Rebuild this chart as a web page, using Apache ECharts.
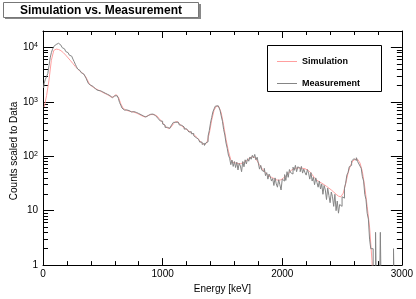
<!DOCTYPE html>
<html>
<head>
<meta charset="utf-8">
<script src="https://cdn.jsdelivr.net/npm/echarts@6/dist/echarts.min.js"></script>
<style>
html,body{margin:0;padding:0;background:#fff;}
#chart{width:416px;height:299px;}
</style>
</head>
<body>
<div id="chart"></div>
<script>
// ---- data ----
const titleText = 'Simulation vs. Measurement';
const seriesNames = ['Simulation', 'Measurement'];
const xTitle = 'Energy [keV]';
const yTitle = 'Counts scaled to Data';
const xTickLabels = [0, 1000, 2000, 3000];
const yTickValues = [1, 10, 100, 1000, 10000];
const yMinorMultipliers = [2, 3, 4, 5, 6, 7, 8, 9];

// simulation: 20 keV bins starting at 0 keV
const simBinWidth = 20;
const simValues = [
  800, 1300, 2500, 5800, 8800, 9300, 9150, 8700, 8000, 7200,
  6400, 5700, 5050, 4450, 4000, 3650, 3350, 3050, 2550, 2080,
  1920, 1800, 1700, 1610, 1530, 1450, 1380, 1310, 1220, 1240,
  1360, 1230, 920, 760, 710, 685, 668, 655, 635, 608,
  578, 548, 528, 545, 575, 585, 578, 558, 495, 442,
  385, 342, 322, 340, 395, 435, 422, 375, 345, 320,
  300, 280, 260, 240, 218, 193, 174, 164, 178, 260,
  460, 700, 835, 815, 625, 370, 205, 124, 86, 77,
  75, 73, 73, 75, 79, 86, 94, 98, 95, 82,
  70, 60, 53, 47, 43, 41, 39, 37, 36, 37,
  40, 43, 48, 54, 58, 60, 61, 61, 60, 59,
  56, 52, 46, 40, 36, 34, 32, 30, 28, 26,
  24, 22, 20, 18.5, 18, 21, 31, 49, 68, 82,
  88, 88, 75, 52, 27, 12, 5, 1.2, 0.1, null,
  null, null, null, null, null, null, null, null, null, null
];

// measurement: 10 keV bins starting at 0 keV (0.1 = empty bin)
const measBinWidth = 10;
const measValues = [
  1800, 2200, 2600, 2900, 3300, 4600, 6400, 8000, 9300, 10400,
  11300, 11800, 11900, 11500, 11000, 10400, 9900, 9400, 8900, 8400,
  8000, 7600, 7200, 6900, 6500, 6100, 5500, 4900, 4400, 4000,
  3750, 3560, 3420, 3260, 3120, 2980, 2720, 2410, 2160, 2010,
  1940, 1910, 1820, 1780, 1710, 1680, 1620, 1600, 1540, 1520,
  1460, 1440, 1380, 1370, 1320, 1300, 1230, 1210, 1190, 1290,
  1340, 1380, 1290, 1160, 970, 870, 770, 750, 705, 710,
  680, 690, 660, 675, 650, 660, 630, 640, 605, 610,
  575, 580, 545, 550, 520, 535, 525, 560, 565, 590,
  575, 595, 570, 585, 560, 550, 500, 490, 445, 440,
  390, 375, 340, 340, 315, 325, 320, 360, 370, 420,
  420, 450, 425, 420, 375, 370, 340, 345, 315, 320,
  295, 300, 278, 282, 258, 262, 238, 242, 220, 205,
  202, 182, 182, 165, 172, 158, 175, 185, 235, 295,
  405, 515, 650, 740, 830, 845, 845, 780, 700, 550,
  440, 310, 245, 175, 140, 105, 92, 70, 85, 65,
  80, 62, 78, 56, 74, 66, 52, 80, 64, 86,
  72, 90, 81, 97, 88, 104, 93, 108, 86, 96,
  75, 58, 68, 55, 52, 60, 44, 50, 38, 47,
  42, 35, 39, 29, 40, 31, 27, 37, 30, 24,
  38, 35, 46, 36, 52, 41, 57, 50, 47, 63,
  55, 68, 52, 64, 60, 52, 65, 49, 58, 50,
  45, 57, 49, 38, 50, 35, 41, 30, 40, 33,
  27, 35, 25, 31, 20, 29, 24, 16, 26, 19,
  14, 22, 18, 12, 20, 10, 15, 9, 13, 12,
  18, 17, 26, 32, 45, 50, 64, 68, 82, 80,
  90, 84, 94, 80, 82, 66, 60, 42, 35, 20,
  16, 9, 7, 3, 2, 2, 0.1, 0.1, 4, 0.1,
  0.1, 0.1, 4, 0.1, 0.1, 0.1, 0.1, 0.1, 0.1, 0.1,
  0.1, 0.1, 0.1, 2, 0.1, 0.1, 0.1, 0.1, 0.1, 0.1
];

// ---- build ----
const simData = simValues.map((v, i) => [i * simBinWidth + simBinWidth / 2, v]);
const measData = measValues.map((v, i) => [i * measBinWidth + measBinWidth / 2, v]);
const yMinorTicks = [];
yTickValues.slice(0, 4).forEach(d => yMinorMultipliers.forEach(m => yMinorTicks.push(d * m)));
yMinorMultipliers.slice(0, 1).forEach(m => yMinorTicks.push(10000 * m));

const FONT = "'Liberation Sans', Arial, Helvetica, sans-serif";
const X_MIN = 0, X_MAX = 3000, Y_MIN = 1, Y_MAX = 20000;
const SIM_COLOR = '#ff9f9f', MEAS_COLOR = '#858585';

function xAxisDef(pos, showLabel) {
  return {
    type: 'value', position: pos, min: X_MIN, max: X_MAX, interval: 1000,
    axisLine: { show: true, onZero: false, lineStyle: { color: '#000', width: 1 } },
    axisTick: { show: true, inside: true, length: 7, lineStyle: { color: '#000', width: 1 } },
    minorTick: { show: true, splitNumber: 5, length: 4, lineStyle: { color: '#000', width: 1 } },
    splitLine: { show: false }, minorSplitLine: { show: false },
    axisLabel: { show: showLabel, fontSize: 10, color: '#000', fontFamily: FONT, margin: 4,
      customValues: xTickLabels, formatter: v => String(v) },
    name: showLabel ? xTitle : '', nameLocation: 'middle', nameGap: 17,
    nameTextStyle: { fontSize: 10, color: '#000', fontFamily: FONT }
  };
}
function yAxisDef(pos, major) {
  return {
    type: 'log', logBase: 10, position: pos, min: Y_MIN, max: Y_MAX,
    axisLine: { show: major, onZero: false, lineStyle: { color: '#000', width: 1 } },
    axisTick: { show: true, inside: true, length: major ? 11 : 5,
      customValues: major ? yTickValues : yMinorTicks,
      lineStyle: { color: '#000', width: 1 } },
    splitLine: { show: false },
    axisLabel: {
      show: major && pos === 'left', customValues: yTickValues, fontSize: 10, color: '#000',
      fontFamily: FONT, margin: 5,
      formatter: v => {
        const n = Math.round(Math.log10(v));
        if (n === 0) return '1';
        if (n === 1) return '10';
        return '10{sup|' + n + '}';
      },
      rich: { sup: { fontSize: 7, fontFamily: FONT, color: '#000', verticalAlign: 'top', padding: [0, 0, 4, 0] } }
    }
  };
}

const chart = echarts.init(document.getElementById('chart'), null, { renderer: 'canvas' });
chart.setOption({
  animation: false,
  backgroundColor: '#fff',
  grid: { left: 43, right: 13, top: 31, bottom: 27, containLabel: false },
  xAxis: [xAxisDef('bottom', true), xAxisDef('top', false)],
  yAxis: [yAxisDef('left', true), yAxisDef('left', false), yAxisDef('right', true), yAxisDef('right', false)],
  legend: {
    data: seriesNames, orient: 'vertical', left: 272, top: 52,
    itemWidth: 20, itemHeight: 1, itemGap: 13, icon: 'rect',
    textStyle: { fontSize: 9, fontWeight: 'bold', color: '#000', fontFamily: FONT },
    z: 10
  },
  graphic: [
    { type: 'rect', z: 5, shape: { x: 5, y: 4, width: 196, height: 15 }, style: { fill: '#888' } },
    { type: 'rect', z: 6, shape: { x: 3.5, y: 2.5, width: 195, height: 15 }, style: { fill: '#fff', stroke: '#777', lineWidth: 1 } },
    { type: 'text', z: 7, style: { x: 101, y: 10.5, text: titleText, align: 'center', verticalAlign: 'middle',
        font: 'bold 12px ' + FONT, fill: '#000' } },
    { type: 'rect', z: 8, shape: { x: 267.5, y: 45.5, width: 114, height: 46 }, style: { fill: '#fff', stroke: '#000', lineWidth: 1 } },
    { type: 'text', z: 7, rotation: Math.PI / 2, x: 14, y: 151,
      style: { x: 0, y: 0, text: yTitle, align: 'center', verticalAlign: 'middle', font: '10px ' + FONT, fill: '#000' } }
  ],
  series: [
    {
      name: seriesNames[0], type: 'line', data: simData, symbol: 'none', connectNulls: false,
      xAxisIndex: 0, yAxisIndex: 0, clip: true, color: SIM_COLOR,
      lineStyle: { color: SIM_COLOR, width: 1 }, z: 2
    },
    {
      name: seriesNames[1], type: 'line', data: measData, step: 'middle', symbol: 'none',
      xAxisIndex: 0, yAxisIndex: 0, clip: true, color: MEAS_COLOR,
      lineStyle: { color: MEAS_COLOR, width: 1 }, z: 3
    }
  ]
});
</script>
</body>
</html>
